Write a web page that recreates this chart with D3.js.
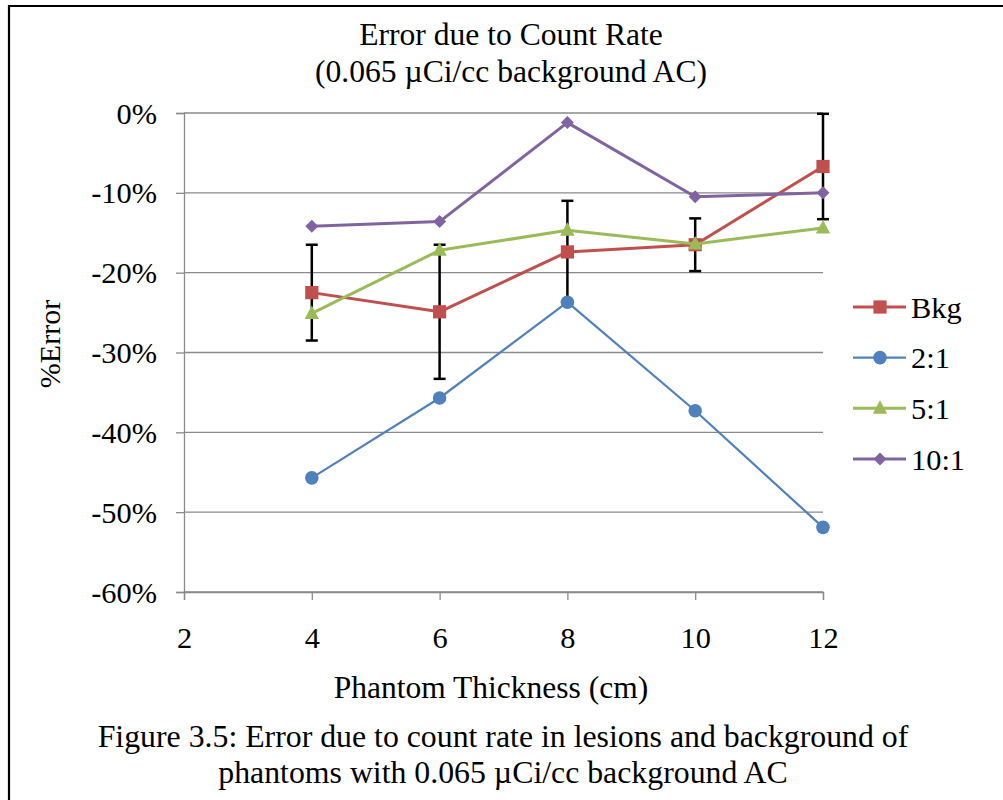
<!DOCTYPE html>
<html>
<head>
<meta charset="utf-8">
<script src="https://cdn.jsdelivr.net/npm/d3@7"></script>
<style>
  html, body { margin: 0; padding: 0; background: #fff; }
  svg { display: block; }
  svg text { font-family: "Liberation Serif", "Times New Roman", serif !important; fill: #000; }
</style>
</head>
<body>
<svg id="chart" width="1003" height="800"></svg>
<script>
// ---- data ----
const thickness = [4, 6, 8, 10, 12];
const seriesNames = ["Bkg", "2:1", "5:1", "10:1"];
const bkg   = [-0.225, -0.249, -0.174, -0.165, -0.067];
const r2to1 = [-0.457, -0.357, -0.237, -0.373, -0.519];
const r5to1 = [-0.251, -0.172, -0.147, -0.164, -0.144];
const r10to1 = [-0.142, -0.136, -0.012, -0.105, -0.100];
const bkgError = [0.060, 0.084, 0.064, 0.033, 0.066];
const xTicks = [2, 4, 6, 8, 10, 12];
const yTicks = [0, -0.1, -0.2, -0.3, -0.4, -0.5, -0.6];
const titleLines = ["Error due to Count Rate", "(0.065 µCi/cc background AC)"];
const xTitle = "Phantom Thickness (cm)";
const yTitle = "%Error";
const captionLines = ["Figure 3.5: Error due to count rate in lesions and background of",
                      "phantoms with 0.065 µCi/cc background AC"];

const colors = ["#C0504D", "#4F81BD", "#9BBB59", "#8064A2"];
const widths = [3, 2.2, 3, 3];
const seriesValues = [bkg, r2to1, r5to1, r10to1];

const FONT = "'Liberation Serif', 'Times New Roman', serif";
const TICK_FS = 30.4;
const svg = d3.select("#chart").attr("font-family", FONT);

// frame
svg.append("line").attr("x1", 9).attr("x2", 1003).attr("y1", 6).attr("y2", 6)
  .attr("stroke", "#000").attr("stroke-width", 2.2);
svg.append("line").attr("x1", 9).attr("x2", 9).attr("y1", 5).attr("y2", 800)
  .attr("stroke", "#000").attr("stroke-width", 2.2);

const x = d3.scaleLinear().domain([2, 12]).range([184, 823]);
const y = d3.scaleLinear().domain([-0.6, 0]).range([592, 113]);

const grid = "#8a8a8a";

// gridlines
svg.append("g").selectAll("line").data(yTicks).join("line")
  .attr("x1", x(2)).attr("x2", x(12))
  .attr("y1", d => y(d)).attr("y2", d => y(d))
  .attr("stroke", grid).attr("stroke-width", 1.3);

// y axis
const yAxis = svg.append("g").attr("transform", `translate(${x(2)},0)`)
  .call(d3.axisLeft(y).tickValues(yTicks).tickSize(8).tickPadding(19)
    .tickFormat(d => d3.format(".0%")(d).replace("−", "-")));
yAxis.attr("font-family", FONT).attr("font-size", TICK_FS);
yAxis.select(".domain").attr("stroke", grid).attr("stroke-width", 1.3);
yAxis.selectAll(".tick line").attr("stroke", grid).attr("stroke-width", 1.3);
yAxis.selectAll(".tick text").attr("font-size", TICK_FS).attr("dy", "0.33em")
  .style("font-family", FONT);

// x axis
const xAxis = svg.append("g").attr("transform", `translate(0,${y(-0.6)})`)
  .call(d3.axisBottom(x).tickValues(xTicks).tickSize(8).tickPadding(26)
    .tickFormat(d3.format("d")));
xAxis.attr("font-family", FONT).attr("font-size", TICK_FS);
xAxis.select(".domain").attr("stroke", grid).attr("stroke-width", 1.3);
xAxis.selectAll(".tick line").attr("stroke", grid).attr("stroke-width", 1.3);
xAxis.selectAll(".tick text").attr("font-size", TICK_FS).attr("dy", "0.71em")
  .style("font-family", FONT);

// error bars for Bkg (behind)
const eb = svg.append("g");
thickness.forEach((t, i) => {
  const top = y(bkg[i] + bkgError[i]), bot = y(bkg[i] - bkgError[i]), cx = x(t);
  eb.append("line").attr("x1", cx).attr("x2", cx).attr("y1", top).attr("y2", bot)
    .attr("stroke", "#000").attr("stroke-width", 2.5);
  [top, bot].forEach(v => eb.append("line").attr("x1", cx - 6).attr("x2", cx + 6)
    .attr("y1", v).attr("y2", v).attr("stroke", "#000").attr("stroke-width", 2.5));
});

// marker shapes
function marker(g, idx, cx, cy, color) {
  if (idx === 0) {
    g.append("rect").attr("x", cx - 6.6).attr("y", cy - 6.6).attr("width", 13.2).attr("height", 13.2)
      .attr("fill", color);
  } else if (idx === 1) {
    g.append("circle").attr("cx", cx).attr("cy", cy).attr("r", 6.8).attr("fill", color);
  } else if (idx === 2) {
    g.append("path").attr("d", `M${cx},${cy - 8} L${cx + 7.2},${cy + 5.5} L${cx - 7.2},${cy + 5.5} Z`)
      .attr("fill", color);
  } else {
    g.append("path").attr("d", `M${cx},${cy - 6.5} L${cx + 6.5},${cy} L${cx},${cy + 6.5} L${cx - 6.5},${cy} Z`)
      .attr("fill", color);
  }
}

const line = d3.line().x(d => x(d[0])).y(d => y(d[1]));
seriesValues.forEach((vals, si) => {
  const g = svg.append("g");
  const pts = thickness.map((t, i) => [t, vals[i]]);
  g.append("path").attr("d", line(pts)).attr("fill", "none")
    .attr("stroke", colors[si]).attr("stroke-width", widths[si]).attr("stroke-linejoin", "round");
  pts.forEach(p => marker(g, si, x(p[0]), y(p[1]), colors[si]));
});

// legend
const legendY = d3.scaleLinear().domain([0, 3]).range([307, 459]);
seriesNames.forEach((name, si) => {
  const g = svg.append("g");
  const ly = legendY(si);
  g.append("line").attr("x1", 853).attr("x2", 906).attr("y1", ly).attr("y2", ly)
    .attr("stroke", colors[si]).attr("stroke-width", widths[si]);
  marker(g, si, 880, ly, colors[si]);
  g.append("text").attr("x", 911).attr("y", ly + 10.5).attr("font-size", TICK_FS)
    .style("font-family", FONT).text(name);
});

// titles
svg.append("g").selectAll("text").data(titleLines).join("text")
  .attr("x", 511).attr("y", (d, i) => 45 + i * 37)
  .attr("text-anchor", "middle").attr("font-size", 31.6).text(d => d);

svg.append("text").attr("x", 491).attr("y", 698).attr("text-anchor", "middle")
  .attr("font-size", 31.5).text(xTitle);

svg.append("text").attr("transform", "translate(60,344) rotate(-90)")
  .attr("text-anchor", "middle").attr("font-size", 30).text(yTitle);

svg.append("g").selectAll("text").data(captionLines).join("text")
  .attr("x", 503).attr("y", (d, i) => 747 + i * 36)
  .attr("text-anchor", "middle").attr("font-size", 31.8).text(d => d);
</script>
</body>
</html>
